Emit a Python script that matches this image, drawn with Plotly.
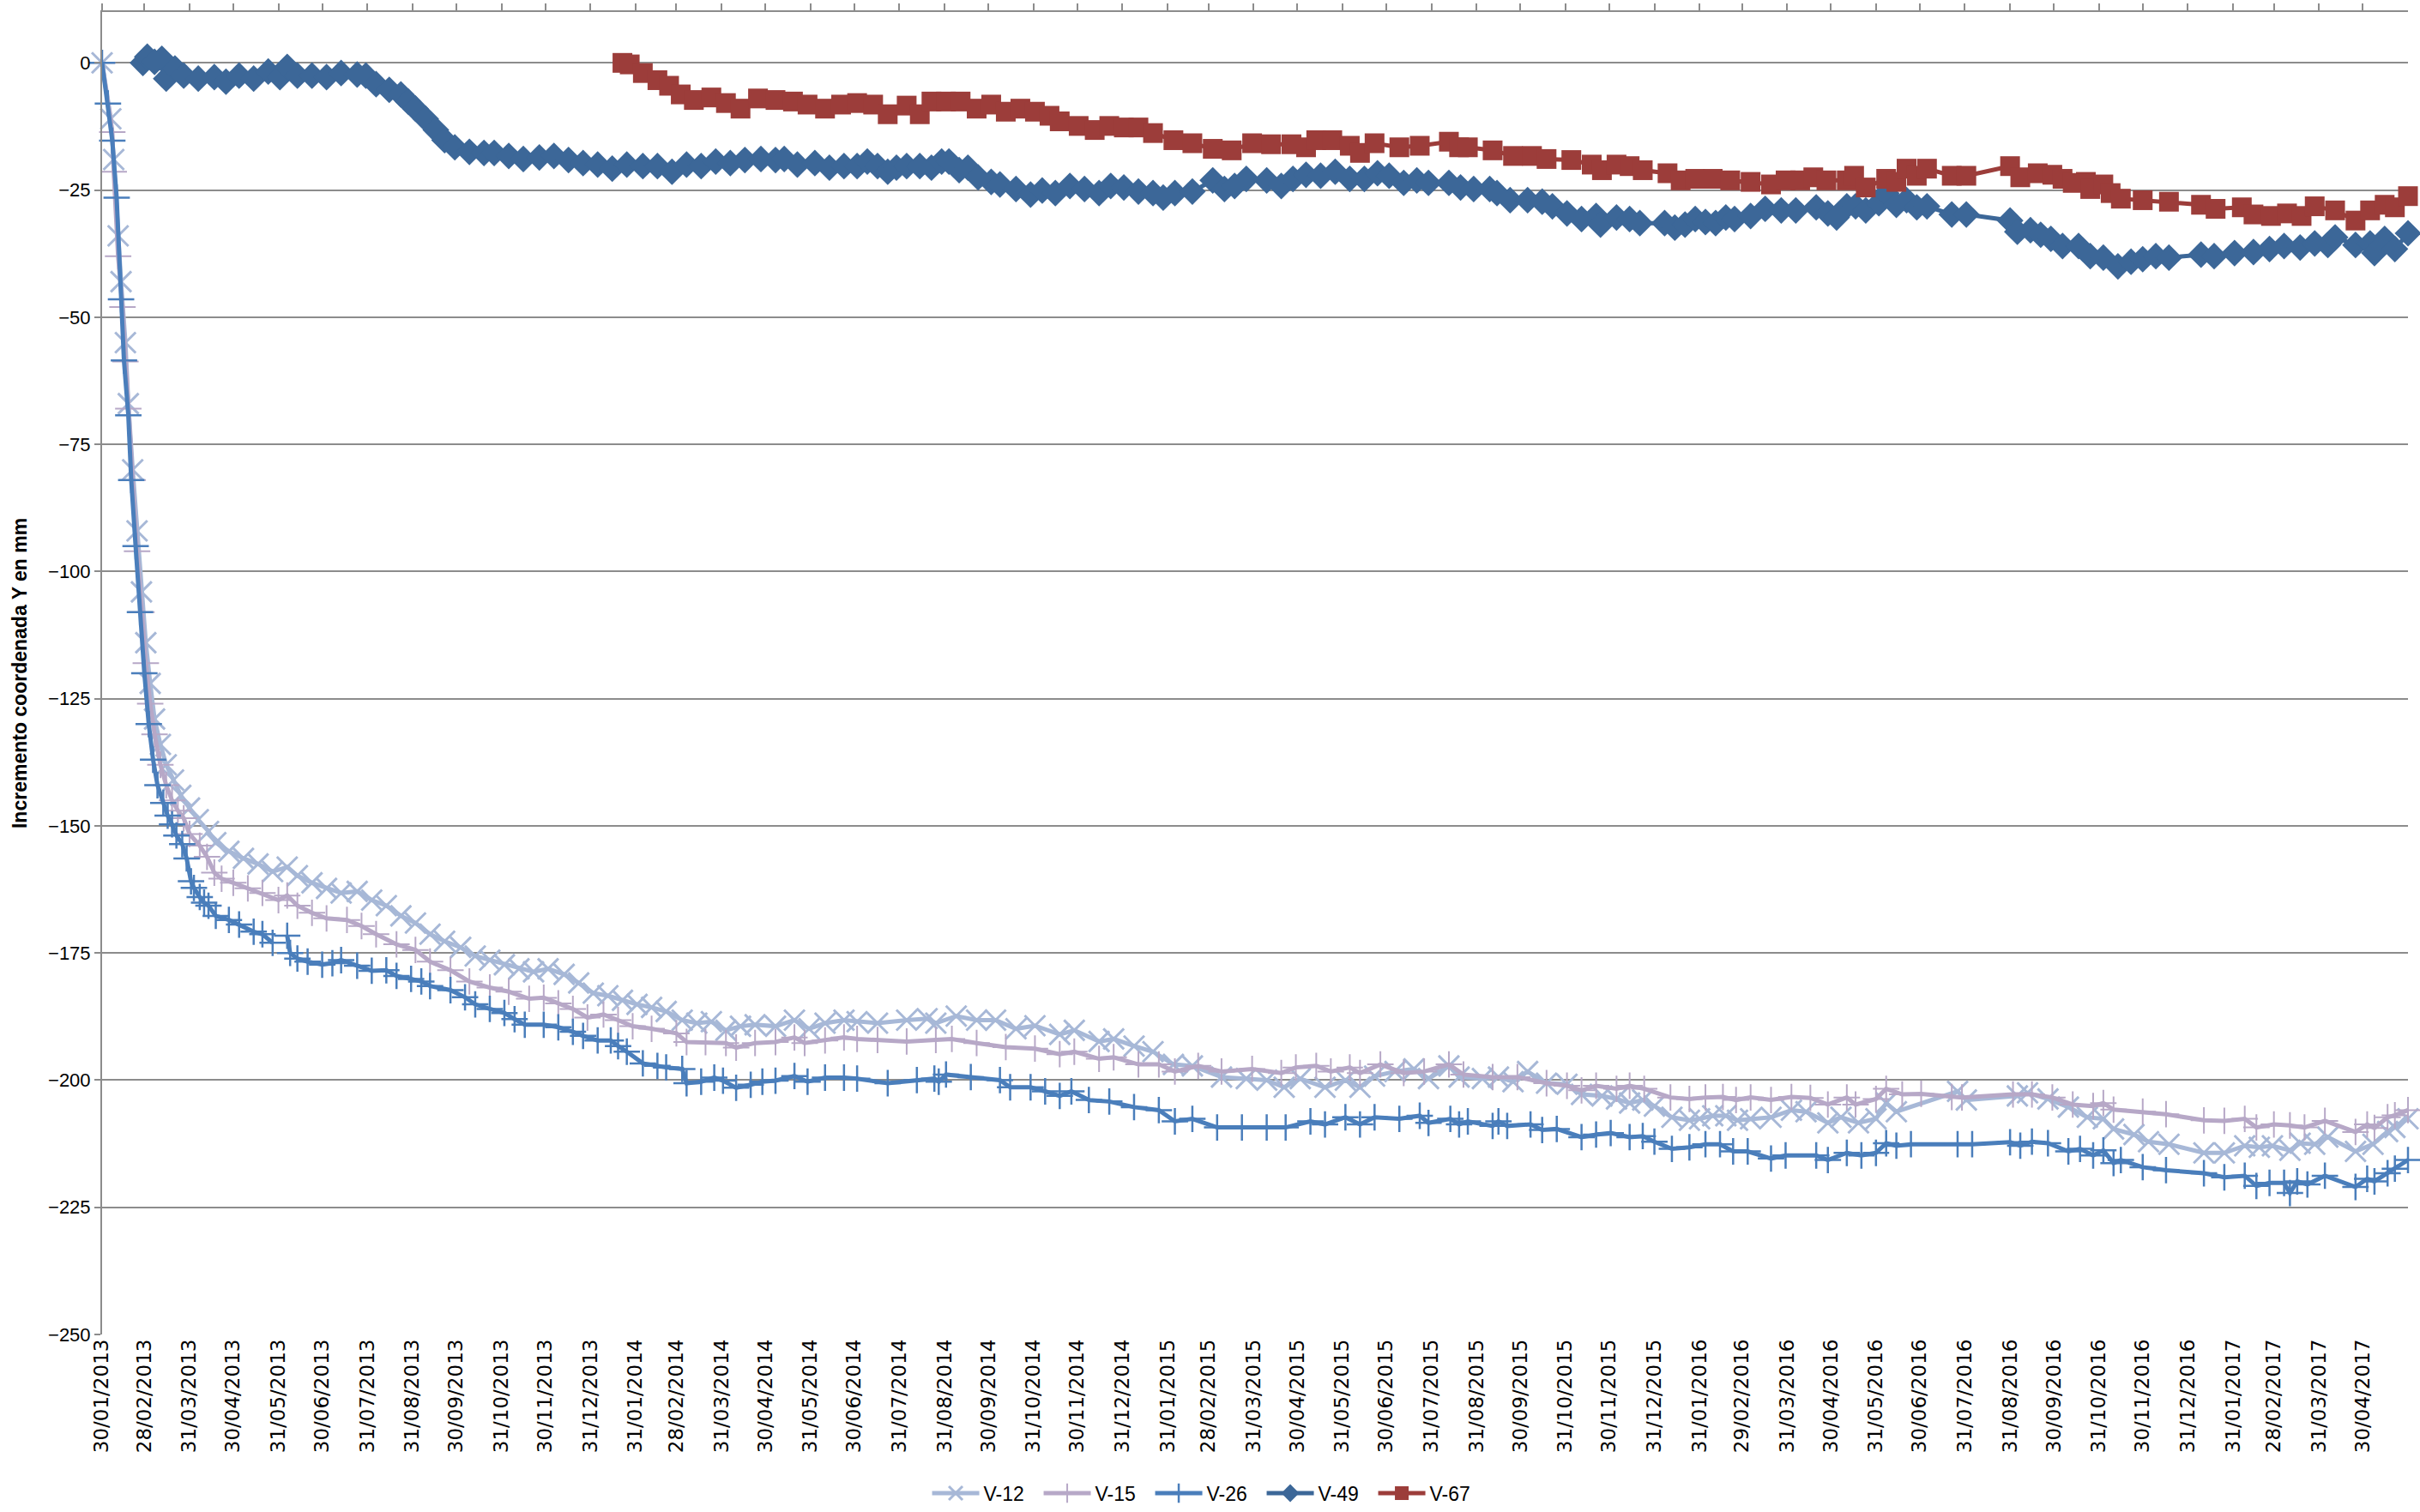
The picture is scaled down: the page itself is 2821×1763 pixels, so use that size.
import pandas as pd
import plotly.graph_objects as go

# ---------------- data (x as Excel serial dates, y in mm) ----------------
v12_dates = [41304, 41310, 41312, 41315, 41317, 41320, 41322, 41325, 41328, 41331, 41334, 41337, 41340, 41344, 41348,
             41353, 41358, 41364, 41370, 41377, 41382, 41391, 41401, 41411, 41421, 41431, 41438, 41448, 41458, 41468,
             41479, 41489, 41499, 41509, 41519, 41529, 41539, 41550, 41560, 41570, 41580, 41590, 41600, 41610, 41621,
             41631, 41641, 41651, 41661, 41671, 41681, 41691, 41702, 41712, 41722, 41732, 41742, 41752, 41766, 41779,
             41789, 41800, 41813, 41822, 41836, 41856, 41870, 41876, 41890, 41904, 41917, 41931, 41944, 41961, 41971,
             41988, 41998, 42012, 42025, 42039, 42052, 42072, 42089, 42103, 42115, 42126, 42143, 42157, 42167, 42177,
             42191, 42204, 42214, 42228, 42235, 42251, 42262, 42272, 42282, 42295, 42309, 42319, 42333, 42343, 42352,
             42361, 42369, 42381, 42393, 42400, 42409, 42418, 42426, 42435, 42449, 42463, 42473, 42488, 42497, 42509,
             42521, 42528, 42535, 42577, 42583, 42618, 42625, 42639, 42653, 42666, 42677, 42684, 42698, 42708, 42722,
             42746, 42760, 42774, 42784, 42793, 42805, 42812, 42822, 42831, 42850, 42862, 42872, 42877, 42886]
v12_values = [0, -11, -19, -34, -43, -55, -67, -80, -92, -104, -114, -122, -129, -134, -138,
              -141, -144, -146.5, -148.8, -151.1, -153.3, -155, -156.4, -157.5, -159, -158.1, -159.8, -161.2, -162.3, -163.2,
              -162.9, -164.6, -165.7, -167.7, -169.1, -171.3, -172.7, -173.9, -175.6, -176.4, -177.3, -178.1, -178.7, -178.1, -179.2,
              -180.9, -182.9, -183.4, -184.3, -185.1, -185.7, -186.5, -188.2, -188.8, -188.5, -190.2, -189.4, -189.1, -189.4, -188.2,
              -189.9, -188.8, -188.2, -188.5, -188.8, -188.2, -187.9, -188.8, -187.4, -188.2, -188.2, -189.9, -189.3, -191, -190.2,
              -192.4, -191.9, -193.3, -194.4, -196.9, -197.2, -199.4, -199.7, -200, -201.4, -199.7, -201.4, -200, -201.4, -199.2,
              -198.3, -197.8, -199.7, -197.2, -199.4, -199.7, -199.4, -200.3, -198.3, -200.6, -200.8, -202.8, -203.1, -203.7, -204.5,
              -203.9, -205.1, -207.3, -207.9, -207.6, -207, -207, -207.9, -207.6, -207.3, -205.9, -206.2, -208.4, -207.3, -208.4,
              -207.6, -204.5, -206.2, -202.2, -203.9, -203.1, -202.5, -203.7, -205.3, -207.3, -207.6, -209.6, -210.7, -212.1, -212.6,
              -214.3, -214.3, -212.9, -213.2, -212.9, -213.8, -212.4, -212.6, -211.2, -214, -212.6, -210.1, -209.3, -207.6]

v15_dates = [41304, 41311, 41312, 41315, 41318, 41320, 41322, 41325, 41328, 41331, 41334, 41337, 41340, 41344, 41348,
             41352, 41356, 41360, 41364, 41371, 41376, 41381, 41386, 41394, 41404, 41414, 41425, 41431, 41438, 41448,
             41458, 41472, 41482, 41492, 41506, 41519, 41529, 41543, 41556, 41570, 41583, 41597, 41607, 41617, 41627,
             41637, 41648, 41658, 41668, 41681, 41698, 41705, 41718, 41732, 41739, 41752, 41766, 41779, 41786, 41800,
             41813, 41822, 41836, 41856, 41876, 41887, 41904, 41924, 41944, 41961, 41971, 41988, 41998, 42015, 42029,
             42040, 42056, 42072, 42093, 42113, 42123, 42137, 42147, 42160, 42167, 42181, 42197, 42211, 42228, 42238,
             42258, 42275, 42295, 42309, 42319, 42329, 42343, 42352, 42362, 42380, 42393, 42404, 42416, 42425, 42435,
             42449, 42463, 42476, 42488, 42501, 42507, 42521, 42528, 42539, 42552, 42573, 42580, 42615, 42628, 42642,
             42656, 42670, 42677, 42684, 42704, 42720, 42746, 42760, 42774, 42782, 42794, 42805, 42815, 42829, 42850,
             42858, 42863, 42872, 42877, 42886]
v15_values = [0, -13.6, -21.4, -38, -48, -58.7, -68, -82, -96, -108, -118, -126, -132, -138, -142,
              -145, -147, -148.5, -151.6, -153.9, -156.1, -159.2, -160.4, -161.2, -162.3, -163.2, -164.6, -163.7, -165.7, -167.1,
              -168.2, -168.5, -169.7, -171.3, -173.3, -174.4, -176.7, -178.4, -180.6, -181.8, -182.6, -184, -183.8, -184.9, -186,
              -187.7, -187.1, -188.2, -189.4, -189.9, -190.8, -192.5, -192.5, -192.7, -193.6, -192.7, -192.5, -191.6, -192.7, -192.2,
              -191.6, -191.9, -192.1, -192.4, -192.1, -191.9, -192.7, -193.5, -193.8, -194.9, -194.4, -195.8, -195.5, -196.9, -196.9,
              -198.3, -197.2, -198.3, -197.8, -198.6, -197.5, -197.2, -198.3, -197.5, -198.6, -196.9, -198.6, -198.3, -196.9, -198.9,
              -199.4, -199.4, -200.6, -201.1, -202, -201.1, -201.7, -201.1, -201.7, -203.4, -203.7, -203.4, -203.3, -203.9, -203.4,
              -203.9, -203.3, -203.5, -204.8, -203.4, -204.8, -203.7, -201.7, -202.8, -202.7, -203.3, -203.4, -202.8, -202.8, -203.4,
              -204.8, -205.1, -204.5, -205.8, -206.2, -206.7, -207.9, -208, -207.6, -209.3, -208.7, -208.9, -209.3, -208, -210.2,
              -208.7, -209.4, -207.3, -206.9, -205.9]

v26_dates = [41304, 41308, 41311, 41314, 41317, 41319, 41322, 41324, 41327, 41330, 41333, 41336, 41339, 41342, 41346,
             41349, 41352, 41355, 41359, 41362, 41365, 41367, 41371, 41374, 41377, 41382, 41391, 41398, 41408, 41414,
             41421, 41426, 41431, 41433, 41438, 41445, 41455, 41462, 41468, 41479, 41489, 41499, 41506, 41516, 41523,
             41529, 41543, 41553, 41560, 41570, 41580, 41587, 41594, 41607, 41617, 41627, 41634, 41644, 41653, 41658,
             41664, 41675, 41685, 41691, 41702, 41705, 41715, 41724, 41730, 41739, 41749, 41757, 41766, 41779, 41788,
             41800, 41813, 41822, 41843, 41863, 41875, 41878, 41883, 41900, 41920, 41927, 41941, 41951, 41961, 41969,
             41981, 41995, 42012, 42029, 42040, 42052, 42069, 42086, 42103, 42116, 42133, 42143, 42157, 42167, 42177,
             42194, 42208, 42214, 42229, 42235, 42241, 42258, 42262, 42268, 42284, 42292, 42302, 42319, 42329, 42339,
             42352, 42361, 42369, 42381, 42393, 42404, 42414, 42423, 42433, 42449, 42459, 42480, 42488, 42501, 42511,
             42521, 42528, 42535, 42545, 42577, 42587, 42613, 42620, 42628, 42639, 42653, 42661, 42670, 42677, 42684,
             42689, 42704, 42720, 42746, 42760, 42774, 42782, 42791, 42801, 42805, 42810, 42817, 42829, 42850, 42858,
             42863, 42872, 42877, 42886]
v26_values = [0, -8, -15.3, -26.5, -46.5, -58.5, -69.3, -82, -95, -108, -120, -130, -137, -142, -145.5,
              -148, -149.7, -151.9, -153.6, -156.4, -160.9, -162.2, -164, -165.1, -165.7, -167.7, -168.5, -169.4, -170.8, -171.3,
              -173, None, -171.6, -175, -176.1, -176.7, -177.3, -177, -176.4, -177.5, -178.5, -178.4, -179.5, -180.1, -180.6,
              -181.5, -182.3, -183.7, -185.1, -186, -186.8, -188, -189.1, -189.1, -189.6, -190.5, -191.3, -192.2, -192.2, -193.3,
              -194.4, -196.7, -197.2, -197.5, -197.8, -200.6, -200.3, -199.5, -200.1, -201.5, -200.9, -200.3, -200.1, -199.2, -200.3,
              -199.5, -199.5, -199.7, -200.6, -200, -199.7, -200.3, -198.9, -199.4, -200, -201.4, -201.4, -202.2, -203.1, -202.2,
              -203.9, -204.2, -205.3, -205.9, -208.1, -207.6, -209.3, -209.3, -209.3, -209.3, -208.1, -208.7, -207.3, -208.7, -207.3,
              -207.6, -207, -208.4, -207.6, -208.7, -208.1, -209, -208.1, -209, -208.7, -209.8, -209.6, -211.2, -210.7, -210.4,
              -211.2, -211, -212.1, -213.5, -213.2, -212.6, -212.6, -214, -214, -215.4, -214.8, -214.8, -215.7, -214.3, -214.8,
              -214.3, -212.4, -212.9, -212.6, -212.6, -212.6, -212.2, -212.9, -212.1, -212.4, -214, -213.5, -214.8, -213.8, -216.3,
              -215.7, -217.1, -217.7, -218.3, -219.1, -218.8, -220.8, -220.2, -220.2, -222.2, -219.9, -220.5, -218.8, -221, -219.4,
              -219.9, -218.3, -217.4, -215.7]

v49_dates = [41332, 41335, 41340, 41345, 41348, 41354, 41360, 41370, 41381, 41389, 41398, 41408, 41418, 41426, 41431,
             41438, 41448, 41458, 41468, 41479, 41485, 41492, 41501, 41509, 41514, 41519, 41526, 41533, 41539, 41546,
             41556, 41566, 41573, 41583, 41593, 41604, 41614, 41624, 41634, 41644, 41654, 41664, 41675, 41685, 41695,
             41705, 41715, 41725, 41735, 41745, 41756, 41766, 41772, 41781, 41793, 41803, 41813, 41822, 41829, 41836,
             41843, 41849, 41856, 41865, 41873, 41880, 41885, 41892, 41898, 41905, 41914, 41920, 41931, 41941, 41949,
             41958, 41968, 41978, 41988, 41996, 42005, 42015, 42025, 42032, 42040, 42052, 42066, 42074, 42081, 42089,
             42103, 42113, 42121, 42130, 42140, 42150, 42160, 42170, 42179, 42187, 42197, 42206, 42214, 42228, 42236,
             42245, 42256, 42261, 42270, 42282, 42292, 42299, 42309, 42319, 42329, 42332, 42343, 42352, 42359, 42376,
             42383, 42390, 42397, 42404, 42411, 42418, 42424, 42435, 42445, 42456, 42466, 42480, 42488, 42494, 42501,
             42507, 42514, 42523, 42528, 42535, 42542, 42549, 42556, 42573, 42583, 42613, 42618, 42627, 42634, 42641,
             42649, 42660, 42668, 42677, 42687, 42696, 42704, 42713, 42722, 42744, 42753, 42767, 42780, 42791, 42801,
             42812, 42822, 42831, 42836, 42850, 42860, 42863, 42870, 42877, 42886]
v49_values = [0, 1.2, 0.2, 0.8, -3.1, -1.1, -2.5, -3.1, -2.8, -3.7, -2.5, -3.1, -1.7, -2.8, -0.8,
              -2.5, -2.5, -2.8, -2, -2.3, -2.5, -4.2, -5.3, -6.2, -7.6, -9, -11, -13.2, -15.2, -16.6,
              -17.5, -17.7, -17.7, -18.3, -18.9, -18.6, -18.3, -19.1, -19.7, -20, -20.8, -20, -20.3, -20.3, -21.4,
              -20, -20.3, -19.4, -19.7, -19.1, -18.9, -19.1, -18.9, -20, -19.7, -20.6, -20.3, -20.3, -19.4, -20.3,
              -21.4, -20.6, -20.3, -20.3, -20.6, -19.4, -19.4, -21.1, -20.6, -22.5, -23.4, -23.9, -24.8, -25.9, -25.1,
              -25.6, -24.2, -24.8, -25.6, -24.2, -24.5, -25.3, -25.6, -26.5, -25.6, -25.3, -23.1, -24.8, -24.2, -22.8,
              -23.1, -24.2, -22.8, -22, -22.2, -21.4, -22.8, -22.8, -21.7, -22.2, -23.6, -23.1, -23.6, -23.6, -24.5,
              -24.8, -24.8, -25.6, -27, -27, -27.3, -28.2, -29.6, -30.7, -30.1, -31.8, -30.4, -30.7, -31.5, -31.5,
              -32.4, -31.8, -30.7, -31.3, -31.5, -30.4, -30.7, -30.1, -28.7, -29, -29, -28.4, -29.6, -30.4, -28.2,
              -28.2, -29, -27.6, -25.6, -27.9, -27, -28.4, -28.2, -29.8, -29.8, -31, -33.2, -32.9, -33.8, -34.6,
              -36, -36, -38, -38.3, -40, -39.1, -38.6, -38, -38.3, -37.7, -38, -37.4, -37.2, -36.6, -36,
              -36.3, -35.5, -35.8, -34.3, -35.8, -35.5, -37.4, -34.6, -36.6, -33.5]

v67_dates = [41661, 41666, 41675, 41685, 41693, 41701, 41710, 41722, 41732, 41742, 41754, 41766, 41778, 41788, 41800,
             41811, 41822, 41833, 41843, 41856, 41865, 41873, 41883, 41893, 41904, 41914, 41924, 41934, 41944, 41954,
             41961, 41974, 41985, 41995, 42005, 42015, 42025, 42039, 42052, 42066, 42079, 42093, 42106, 42120, 42130,
             42137, 42148, 42160, 42167, 42177, 42194, 42208, 42228, 42235, 42241, 42258, 42272, 42285, 42295, 42312,
             42326, 42333, 42343, 42352, 42361, 42378, 42387, 42397, 42409, 42421, 42435, 42449, 42459, 42469, 42478,
             42487, 42501, 42506, 42514, 42528, 42535, 42542, 42549, 42556, 42573, 42583, 42613, 42620, 42632, 42642,
             42649, 42656, 42665, 42668, 42677, 42682, 42689, 42704, 42722, 42744, 42754, 42772, 42780, 42792, 42803,
             42813, 42822, 42836, 42850, 42860, 42870, 42877, 42886]
v67_values = [0, -0.3, -2, -3.4, -4.5, -6.2, -7.3, -6.8, -7.9, -9, -7, -7.3, -7.6, -8.2, -9,
              -8.2, -7.9, -8.2, -10.1, -8.4, -10.1, -7.6, -7.6, -7.6, -9, -8.2, -9.6, -9, -9.6, -10.4,
              -11.5, -12.4, -13.2, -12.4, -12.7, -12.7, -13.8, -15.2, -15.8, -16.9, -17.2, -15.8, -16, -16, -16.6,
              -15.2, -15.2, -16.3, -17.7, -15.8, -16.6, -16.3, -15.5, -16.6, -16.6, -17.2, -18.3, -18.3, -18.9, -19.1,
              -20, -21.1, -20, -20.3, -21.1, -21.7, -23.1, -22.8, -22.8, -23.1, -23.4, -23.9, -23.1, -23.1, -22.5,
              -23.1, -23.1, -22.2, -24.5, -22.8, -23.4, -20.8, -22.2, -20.8, -22.2, -22.2, -20.3, -22.5, -21.7, -22,
              -22.8, -23.6, -23.4, -24.8, -23.9, -25.6, -26.7, -27, -27.3, -27.9, -28.7, -28.4, -29.8, -30.1, -29.6,
              -30.1, -28.2, -29, -31, -29, -27.9, -28.4, -26.2]

tick_labels = ["30/01/2013", "28/02/2013", "31/03/2013", "30/04/2013", "31/05/2013", "30/06/2013", "31/07/2013",
               "31/08/2013", "30/09/2013", "31/10/2013", "30/11/2013", "31/12/2013", "31/01/2014", "28/02/2014",
               "31/03/2014", "30/04/2014", "31/05/2014", "30/06/2014", "31/07/2014", "31/08/2014", "30/09/2014",
               "31/10/2014", "30/11/2014", "31/12/2014", "31/01/2015", "28/02/2015", "31/03/2015", "30/04/2015",
               "31/05/2015", "30/06/2015", "31/07/2015", "31/08/2015", "30/09/2015", "31/10/2015", "30/11/2015",
               "31/12/2015", "31/01/2016", "29/02/2016", "31/03/2016", "30/04/2016", "31/05/2016", "30/06/2016",
               "31/07/2016", "31/08/2016", "30/09/2016", "31/10/2016", "30/11/2016", "31/12/2016", "31/01/2017",
               "28/02/2017", "31/03/2017", "30/04/2017"]

series_names = ["V-12", "V-15", "V-26", "V-49", "V-67"]
y_title = "Incremento coordenada Y en mm"

# ---------------- styles ----------------
GRID = "#8c8c8c"
styles = {
    "V-12": dict(color="#a7b8d7", symbol="x-thin", size=24, mlw=3),
    "V-15": dict(color="#b7a8c7", symbol="cross-thin", size=22, mlw=2),
    "V-26": dict(color="#4a7ebb", symbol="cross-thin", size=22, mlw=2.5),
    "V-49": dict(color="#3c6798", symbol="diamond", size=24, mlw=0),
    "V-67": dict(color="#9c3d3a", symbol="square", size=23, mlw=0),
}


def to_dt(serials):
    return pd.to_datetime(pd.Series(serials, dtype="float64"), unit="D", origin="1899-12-30")


data = {
    "V-12": (v12_dates, v12_values),
    "V-15": (v15_dates, v15_values),
    "V-26": (v26_dates, v26_values),
    "V-49": (v49_dates, v49_values),
    "V-67": (v67_dates, v67_values),
}

fig = go.Figure()
for name in series_names:
    d, v = data[name]
    st = styles[name]
    thin = st["symbol"].endswith("-thin")
    marker = dict(symbol=st["symbol"], size=st["size"], color=st["color"])
    if thin:
        marker["line"] = dict(color=st["color"], width=st["mlw"])
    else:
        marker["line"] = dict(width=0)
    fig.add_trace(go.Scatter(
        x=to_dt(d), y=v, name=name, mode="lines+markers",
        line=dict(color=st["color"], width=5),
        marker=marker, connectgaps=False, cliponaxis=False,
    ))

x_start = pd.Timestamp("2013-01-30")
x_end = pd.Timestamp("2017-05-31")
tickvals = pd.to_datetime(tick_labels, format="%d/%m/%Y")

# invisible trace to anchor the top axis
fig.add_trace(go.Scatter(x=[x_start], y=[None], xaxis="x2", showlegend=False,
                         hoverinfo="skip", mode="markers"))

fig.update_layout(
    width=2821, height=1763,
    margin=dict(l=119, r=14, t=14, b=207, autoexpand=False),
    paper_bgcolor="white", plot_bgcolor="white",
    showlegend=True,
    legend=dict(orientation="h", x=0.479, xanchor="center", y=-0.12, yanchor="middle",
                font=dict(family="Liberation Sans, Arial, sans-serif", size=23, color="black"),
                entrywidth=60, entrywidthmode="pixels", itemwidth=55,
                bgcolor="rgba(0,0,0,0)"),
    xaxis=dict(type="date", range=[x_start, x_end], tickmode="array", tickvals=tickvals,
               ticktext=tick_labels, tickangle=-90, ticks="", showgrid=False, showline=False,
               zeroline=False, automargin=False,
               tickfont=dict(family="DejaVu Sans, Verdana, sans-serif", size=23, color="black")),
    xaxis2=dict(type="date", overlaying="x", side="top", matches="x", range=[x_start, x_end],
                tickmode="array", tickvals=tickvals, showticklabels=False, ticks="outside",
                ticklen=8, tickwidth=2, tickcolor=GRID, showline=True, linecolor=GRID, linewidth=2,
                showgrid=False, zeroline=False, anchor="y", automargin=False),
    yaxis=dict(range=[-250, 10], tick0=0, dtick=25, showgrid=True, gridcolor=GRID, gridwidth=2,
               showline=True, linecolor=GRID, linewidth=2, ticks="outside", ticklen=7, tickwidth=2,
               tickcolor=GRID, zeroline=False, automargin=False,
               tickfont=dict(family="Liberation Sans, Arial, sans-serif", size=22, color="black")),
    annotations=[dict(text="<b>" + y_title + "</b>", xref="paper", yref="paper", x=-0.0357, y=0.5,
                      xanchor="center", yanchor="middle", textangle=-90, showarrow=False,
                      font=dict(family="Liberation Sans, Arial, sans-serif", size=23, color="black"),
                      )],
)

fig.write_html("out.html", config={"displayModeBar": False},
               post_script="document.body.style.margin='0';")
